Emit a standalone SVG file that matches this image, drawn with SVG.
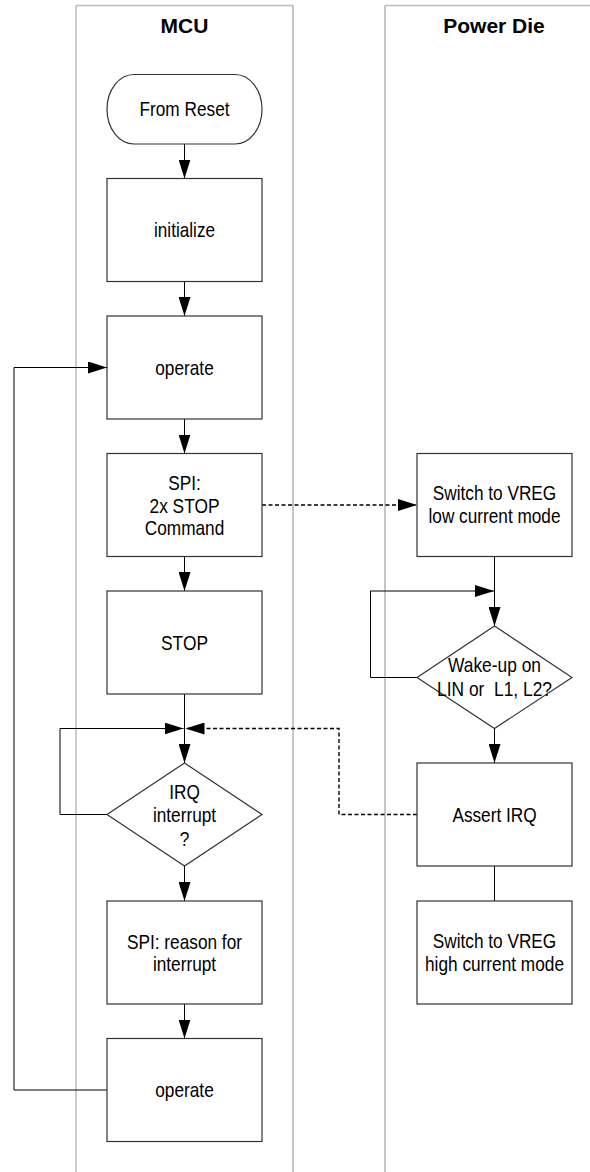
<svg xmlns="http://www.w3.org/2000/svg" width="590" height="1172" viewBox="0 0 590 1172">
<style>
.lane1{stroke:#bdbdbd;stroke-width:1.6;fill:none}
.lane2{stroke:#8c8c8c;stroke-width:1;fill:none}
.box{fill:#fff;stroke:#333;stroke-width:1.2}
.t{font-family:"Liberation Sans Narrow","Arial Narrow","Liberation Sans",Arial,sans-serif;font-size:21px;fill:#000;text-anchor:middle}
.title{font-family:"Liberation Sans",Arial,sans-serif;font-size:21px;font-weight:bold;fill:#000;text-anchor:middle}
.c{stroke:#000;stroke-width:1;fill:none}
.d{stroke:#000;stroke-width:1.4;fill:none;stroke-dasharray:4 2.5}
</style>
<defs>
<marker id="ah" markerUnits="userSpaceOnUse" markerWidth="20" markerHeight="12" refX="19" refY="6" orient="auto">
<path d="M0,0 L19,6 L0,12 z" fill="#000"/>
</marker>
</defs>
<g id="lanes">
<line class="lane1" x1="76" y1="1172" x2="76" y2="5.5"/>
<line class="lane1" x1="76" y1="5.5" x2="293" y2="5.5"/>
<line class="lane2" x1="293" y1="5.5" x2="293" y2="1172"/>
<line class="lane2" x1="385" y1="1172" x2="385" y2="5.5"/>
<line class="lane1" x1="385" y1="5.5" x2="590" y2="5.5"/>
<text class="title" x="184.5" y="33">MCU</text>
<text class="title" x="494" y="33">Power Die</text>
</g>
<g id="connectors">
<line class="c" x1="184.5" y1="144" x2="184.5" y2="178.5" marker-end="url(#ah)"/>
<line class="c" x1="184.5" y1="281.5" x2="184.5" y2="316" marker-end="url(#ah)"/>
<line class="c" x1="184.5" y1="419" x2="184.5" y2="453.5" marker-end="url(#ah)"/>
<line class="c" x1="184.5" y1="556.5" x2="184.5" y2="591" marker-end="url(#ah)"/>
<line class="c" x1="184.5" y1="694" x2="184.5" y2="763" marker-end="url(#ah)"/>
<polyline class="c" points="107,814.5 60,814.5 60,728.5 183.5,728.5" marker-end="url(#ah)"/>
<line class="c" x1="184.5" y1="866" x2="184.5" y2="901" marker-end="url(#ah)"/>
<line class="c" x1="184.5" y1="1004" x2="184.5" y2="1038.5" marker-end="url(#ah)"/>
<polyline class="c" points="107,1090 14,1090 14,367.5 107,367.5" marker-end="url(#ah)"/>
<line class="d" x1="262" y1="505" x2="417" y2="505" marker-end="url(#ah)"/>
<line class="c" x1="494.5" y1="556.5" x2="494.5" y2="626" marker-end="url(#ah)"/>
<polyline class="c" points="417,677.5 370.5,677.5 370.5,591 494,591" marker-end="url(#ah)"/>
<line class="c" x1="494.5" y1="728.5" x2="494.5" y2="763" marker-end="url(#ah)"/>
<line class="c" x1="494.5" y1="866" x2="494.5" y2="901"/>
<polyline class="d" points="417,814.5 339,814.5 339,728.5 185.5,728.5" marker-end="url(#ah)"/>
</g>
<g id="n-reset">
<rect class="box" x="107" y="74.5" width="155" height="69.5" rx="27" ry="34.75"/>
<text class="t" x="184.5" y="116" textLength="90" lengthAdjust="spacingAndGlyphs">From Reset</text>
</g>
<g id="n-init">
<rect class="box" x="107" y="178.5" width="155" height="103"/>
<text class="t" x="184.5" y="237" textLength="61" lengthAdjust="spacingAndGlyphs">initialize</text>
</g>
<g id="n-operate1">
<rect class="box" x="107" y="316" width="155" height="103"/>
<text class="t" x="184.5" y="374.5" textLength="58.5" lengthAdjust="spacingAndGlyphs">operate</text>
</g>
<g id="n-spi-stop">
<rect class="box" x="107" y="453.5" width="155" height="103"/>
<text class="t" x="184.5" y="490" textLength="32.5" lengthAdjust="spacingAndGlyphs">SPI:</text>
<text class="t" x="184.5" y="512.5" textLength="70" lengthAdjust="spacingAndGlyphs">2x STOP</text>
<text class="t" x="184.5" y="535" textLength="79.5" lengthAdjust="spacingAndGlyphs">Command</text>
</g>
<g id="n-stop">
<rect class="box" x="107" y="591" width="155" height="103"/>
<text class="t" x="184.5" y="650" textLength="47" lengthAdjust="spacingAndGlyphs">STOP</text>
</g>
<g id="n-irq">
<polygon class="box" points="184.5,763 262,814.5 184.5,866 107,814.5"/>
<text class="t" x="184.5" y="799" textLength="30.6" lengthAdjust="spacingAndGlyphs">IRQ</text>
<text class="t" x="184.5" y="822" textLength="63.2" lengthAdjust="spacingAndGlyphs">interrupt</text>
<text class="t" x="184.5" y="845.5" textLength="9.6" lengthAdjust="spacingAndGlyphs">?</text>
</g>
<g id="n-reason">
<rect class="box" x="107" y="901" width="155" height="103"/>
<text class="t" x="184.5" y="949" textLength="115" lengthAdjust="spacingAndGlyphs">SPI: reason for</text>
<text class="t" x="184.5" y="970.5" textLength="63.2" lengthAdjust="spacingAndGlyphs">interrupt</text>
</g>
<g id="n-operate2">
<rect class="box" x="107" y="1038.5" width="155" height="103"/>
<text class="t" x="184.5" y="1097" textLength="58.5" lengthAdjust="spacingAndGlyphs">operate</text>
</g>
<g id="n-low">
<rect class="box" x="417" y="453.5" width="155" height="103"/>
<text class="t" x="494.5" y="500" textLength="123.5" lengthAdjust="spacingAndGlyphs">Switch to VREG</text>
<text class="t" x="494.5" y="523" textLength="132" lengthAdjust="spacingAndGlyphs">low current mode</text>
</g>
<g id="n-wake">
<polygon class="box" points="494.5,626 572,677.5 494.5,728.5 417,677.5"/>
<text class="t" x="494.5" y="671.5" textLength="93" lengthAdjust="spacingAndGlyphs">Wake-up on</text>
<text class="t" x="494.5" y="695.5" textLength="115" lengthAdjust="spacingAndGlyphs" xml:space="preserve">LIN or  L1, L2?</text>
</g>
<g id="n-assert">
<rect class="box" x="417" y="763" width="155" height="103"/>
<text class="t" x="494.5" y="821.5" textLength="84.2" lengthAdjust="spacingAndGlyphs">Assert IRQ</text>
</g>
<g id="n-high">
<rect class="box" x="417" y="901" width="155" height="103"/>
<text class="t" x="494.5" y="947.5" textLength="123.5" lengthAdjust="spacingAndGlyphs">Switch to VREG</text>
<text class="t" x="494.5" y="970.5" textLength="139" lengthAdjust="spacingAndGlyphs">high current mode</text>
</g>
</svg>
